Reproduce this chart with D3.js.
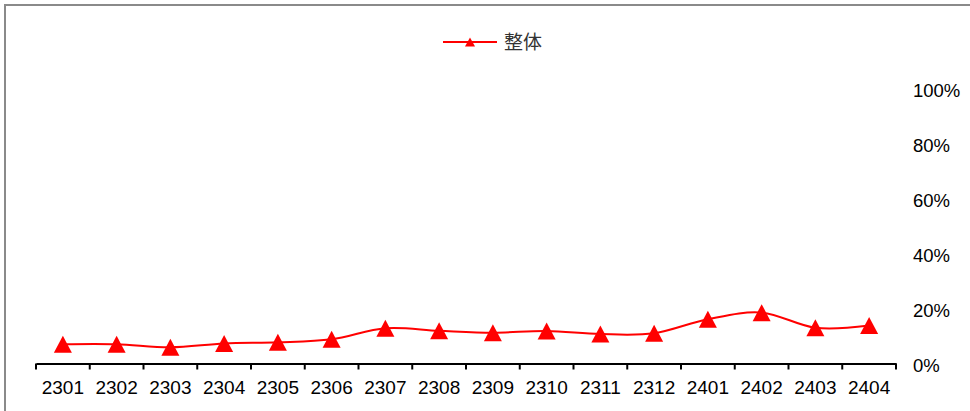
<!DOCTYPE html>
<html>
<head>
<meta charset="utf-8">
<script src="https://cdn.jsdelivr.net/npm/d3@7/dist/d3.min.js"></script>
<style>
  html, body { margin: 0; padding: 0; background: #fff; }
  svg { display: block; }
</style>
</head>
<body>
<svg id="chart" width="970" height="411"></svg>
<script>
// Monthly share, overall
const categories = ["2301","2302","2303","2304","2305","2306","2307","2308","2309","2310","2311","2312","2401","2402","2403","2404"];
const overall = [0.070, 0.070, 0.059, 0.073, 0.077, 0.088, 0.128, 0.119, 0.112, 0.118, 0.107, 0.110, 0.161, 0.185, 0.130, 0.138];
const yTicks = [0, 0.2, 0.4, 0.6, 0.8, 1.0];
const seriesName = "整体";

const svg = d3.select("#chart");
const W = 970, H = 411;
const red = "#FF0000";
const latin = "'Liberation Sans', Arial, sans-serif";

// outer frame (only top/left edges fall inside the view)
svg.append("rect")
  .attr("x", 5).attr("y", 5)
  .attr("width", W + 10).attr("height", H + 10)
  .attr("fill", "none").attr("stroke", "#8a8a8a").attr("stroke-width", 2);

const x = d3.scaleBand().domain(categories).range([36, 896]).padding(0);
const y = d3.scaleLinear().domain([0, 1]).range([363.5, 88.5]);

// category axis along the bottom
const xAxis = d3.axisBottom(x).tickSize(0).tickSizeOuter(0).tickPadding(0);
const gx = svg.append("g").attr("transform", `translate(0,${y(0)})`).call(xAxis);
gx.select(".domain").attr("stroke", "#000").attr("stroke-width", 2);
gx.selectAll(".tick text")
  .attr("dy", null).attr("y", 30.5)
  .attr("fill", "#000")
  .style("font-family", latin).style("font-size", "19px");
// tick marks on the band boundaries
const bounds = categories.map(c => x(c)).concat([x.range()[1]]);
gx.selectAll(".bound").data(bounds).enter().append("line")
  .attr("class", "bound")
  .attr("x1", d => d).attr("x2", d => d)
  .attr("y1", 0).attr("y2", 6)
  .attr("stroke", "#000").attr("stroke-width", 2);

// value axis on the right, labels only
const yAxis = d3.axisRight(y).tickValues(yTicks).tickSize(0).tickPadding(0)
  .tickFormat(d => Math.round(d * 100) + "%");
const gy = svg.append("g").attr("transform", "translate(913,0)").call(yAxis);
gy.select(".domain").remove();
gy.selectAll(".tick text")
  .attr("x", 0).attr("dy", "0.42em")
  .attr("fill", "#000")
  .style("font-family", latin).style("font-size", "18.5px");

// smoothed series line
const line = d3.line()
  .x((d, i) => x(categories[i]) + x.bandwidth() / 2)
  .y(d => y(d))
  .curve(d3.curveCatmullRom.alpha(0));
svg.append("path")
  .datum(overall)
  .attr("d", line)
  .attr("fill", "none").attr("stroke", red).attr("stroke-width", 2);

// triangle markers, centred on their point
const tri = (w, h) => `M0,${-h / 2}L${w / 2},${h / 2}L${-w / 2},${h / 2}Z`;
svg.append("g").selectAll("path")
  .data(overall).enter().append("path")
  .attr("transform", (d, i) => `translate(${x(categories[i]) + x.bandwidth() / 2},${y(d)})`)
  .attr("d", tri(18, 17))
  .attr("fill", red);

// legend
const lg = svg.append("g").attr("transform", "translate(443,42)");
lg.append("line").attr("x1", 0).attr("x2", 54).attr("y1", 0).attr("y2", 0)
  .attr("stroke", red).attr("stroke-width", 2);
lg.append("path").attr("transform", "translate(27,0)").attr("d", tri(10, 9)).attr("fill", red);
lg.append("text").attr("x", 61).attr("y", 0).attr("dy", "0.36em")
  .attr("fill", "#333")
  .style("font-family", "'Noto Sans CJK SC', sans-serif").style("font-size", "19px")
  .text(seriesName);
</script>
</body>
</html>
